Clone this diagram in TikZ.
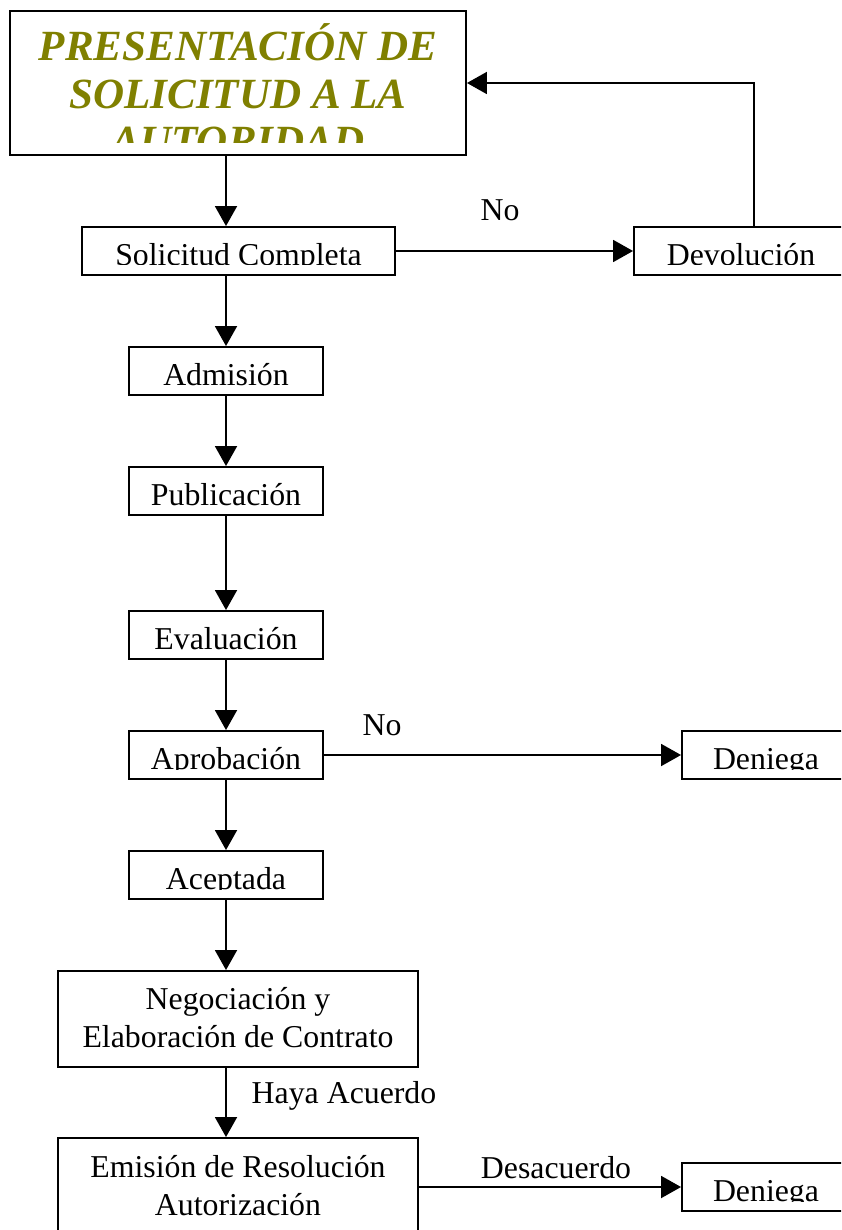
\documentclass[tikz,border=0pt]{standalone}
\usepackage{fontspec}
\setmainfont{Liberation Serif}
\usetikzlibrary{arrows.meta}
\definecolor{oliva}{RGB}{128,128,0}
\newcommand{\fuente}{\fontsize{18.1}{21.3}\selectfont}
\newcommand{\titulo}{\fontsize{24.5}{27.3}\selectfont\bfseries\itshape}

\begin{document}
\begin{tikzpicture}[line width=1.1pt,
    flecha/.style={-{Triangle[length=0.4cm,width=0.44cm]}},
    caja/.style={draw,minimum height=0.96cm,inner sep=0pt},
    texto/.style 2 args={path picture={
        \clip ([yshift=0.2cm]path picture bounding box.south west) rectangle (path picture bounding box.north east);
        \node[anchor=base,align=center,font=\fuente,inner sep=0pt] at ([yshift=#1]path picture bounding box.north) {#2};}},
    rotulo/.style={anchor=base,font=\fuente,inner sep=0pt}]
  \useasboundingbox (0,0) rectangle (16.82,-24.6);
  \clip (0,0) rectangle (16.82,-24.6);

  \node[caja,minimum width=9.12cm,minimum height=2.88cm,path picture={
      \clip ([yshift=0.24cm]path picture bounding box.south west) rectangle (path picture bounding box.north east);
      \node[anchor=base,align=center,font=\titulo,text=oliva,inner sep=0pt] at ([yshift=-2.9cm]path picture bounding box.north) {PRESENTACIÓN DE\\SOLICITUD A LA\\AUTORIDAD};}] (pres) at (4.76,-1.66) {};
  \node[caja,minimum width=6.26cm,texto={-0.77cm}{Solicitud Completa}] (sol) at (4.77,-5.02) {};
  \node[caja,minimum width=4.28cm,texto={-0.77cm}{Devolución}] (dev) at (14.82,-5.02) {};
  \node[caja,minimum width=3.88cm,texto={-0.77cm}{Admisión}] (adm) at (4.52,-7.42) {};
  \node[caja,minimum width=3.88cm,texto={-0.77cm}{Publicación}] (pub) at (4.52,-9.82) {};
  \node[caja,minimum width=3.88cm,texto={-0.77cm}{Evaluación}] (eva) at (4.52,-12.70) {};
  \node[caja,minimum width=3.88cm,texto={-0.77cm}{Aprobación}] (apr) at (4.52,-15.10) {};
  \node[caja,minimum width=3.36cm,texto={-0.77cm}{Deniega}] (den1) at (15.32,-15.10) {};
  \node[caja,minimum width=3.88cm,texto={-0.77cm}{Aceptada}] (ace) at (4.52,-17.50) {};
  \node[caja,minimum width=7.2cm,minimum height=1.92cm,texto={-1.52cm}{Negociación y\\Elaboración de Contrato}] (neg) at (4.76,-20.38) {};
  \node[caja,minimum width=7.2cm,minimum height=1.92cm,texto={-1.54cm}{Emisión de Resolución\\Autorización}] (emi) at (4.76,-23.72) {};
  \node[caja,minimum width=3.36cm,texto={-0.77cm}{Deniega}] (den2) at (15.32,-23.74) {};

  \node[rotulo] (no1) at (10.0,-4.42) {No};
  \node[rotulo] (no2) at (7.64,-14.7) {No};
  \node[rotulo] (acu) at (6.88,-22.06) {Haya Acuerdo};
  \node[rotulo] (des) at (11.12,-23.56) {Desacuerdo};

  \draw[flecha] (pres.south -| adm.north) -- (sol.north -| adm.north);
  \draw[flecha] (sol.east) -- (dev.west);
  \draw[flecha] ([xshift=0.26cm]dev.north) |- (pres.east);
  \draw[flecha] (sol.south -| adm.north) -- (adm.north);
  \draw[flecha] (adm) -- (pub);
  \draw[flecha] (pub) -- (eva);
  \draw[flecha] (eva) -- (apr);
  \draw[flecha] (apr) -- (den1);
  \draw[flecha] (apr) -- (ace);
  \draw[flecha] (ace.south) -- (neg.north -| ace.south);
  \draw[flecha] (neg.south -| ace.south) -- (emi.north -| ace.south);
  \draw[flecha] (emi.east |- den2.west) -- (den2.west);
\end{tikzpicture}
\end{document}
